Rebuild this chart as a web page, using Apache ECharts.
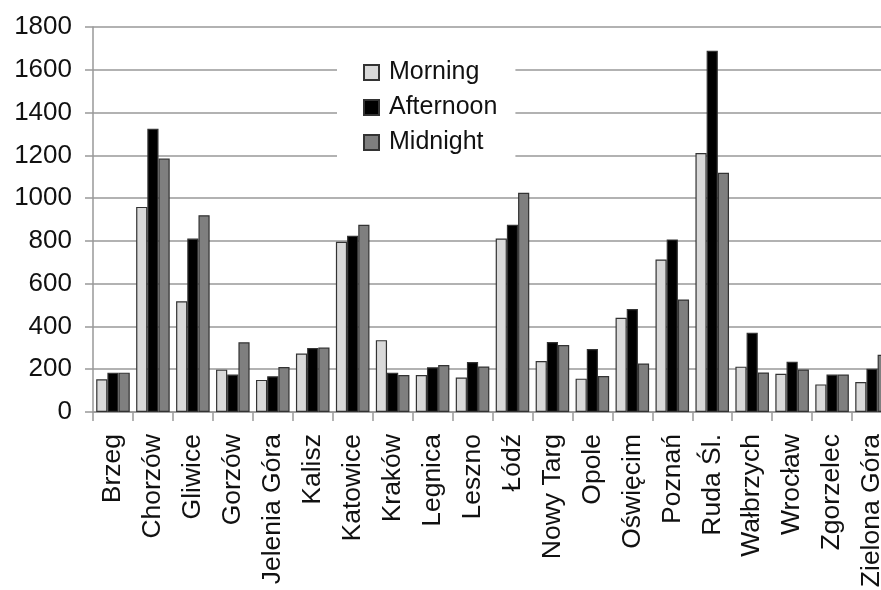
<!DOCTYPE html>
<html>
<head>
<meta charset="utf-8">
<script src="https://cdn.jsdelivr.net/npm/echarts@6/dist/echarts.min.js"></script>
<style>
html,body{margin:0;padding:0;background:#fff;overflow:hidden;}
#chart{width:881px;height:590px;}
</style>
</head>
<body>
<div id="chart"></div>
<script>
const categories = ['Brzeg','Chorzów','Gliwice','Gorzów','Jelenia Góra','Kalisz','Katowice','Kraków','Legnica','Leszno','Łódź','Nowy Targ','Opole','Oświęcim','Poznań','Ruda Śl.','Wałbrzych','Wrocław','Zgorzelec','Zielona Góra'];
const morning   = [153, 959, 518, 198, 150, 273, 796, 336, 173, 161, 811, 238, 156, 441, 713, 1211, 212, 179, 129, 140];
const afternoon = [184, 1324, 811, 175, 167, 299, 824, 184, 209, 234, 875, 327, 294, 481, 807, 1689, 371, 235, 175, 202];
const midnight  = [184, 1185, 920, 326, 210, 301, 875, 173, 220, 213, 1025, 313, 168, 227, 526, 1118, 185, 199, 175, 268];
const yTicks = {min: 0, max: 1800, interval: 200};

const font = 'Liberation Sans, Arial, Helvetica, sans-serif';
const chart = echarts.init(document.getElementById('chart'), null, {renderer: 'canvas'});
const border = {borderColor: '#333', borderWidth: 1.2};
chart.setOption({
  animation: false,
  backgroundColor: '#fff',
  grid: {left: 93, top: 27, bottom: 178, width: 799, containLabel: false, outerBoundsMode: 'none'},
  legend: {
    orient: 'vertical',
    left: 337, top: 48,
    backgroundColor: '#fff',
    padding: [12, 18, 12, 26],
    itemWidth: 15, itemHeight: 15, itemGap: 10,
    icon: 'rect',
    textStyle: {fontSize: 25, color: '#111', fontFamily: font, padding: [0, 0, 0, 5]},
    data: ['Morning', 'Afternoon', 'Midnight']
  },
  xAxis: {
    type: 'category',
    data: categories,
    boundaryGap: true,
    axisLine: {lineStyle: {color: '#999', width: 1.5}},
    axisTick: {show: true, length: 9, alignWithLabel: false, lineStyle: {color: '#999', width: 1.5}},
    axisLabel: {rotate: 90, fontSize: 26.5, color: '#111', fontFamily: font, margin: 22, interval: 0, hideOverlap: false},
    splitLine: {show: false}
  },
  yAxis: {
    type: 'value',
    min: yTicks.min, max: yTicks.max, interval: yTicks.interval,
    axisLine: {show: true, lineStyle: {color: '#999', width: 1.5}},
    axisTick: {show: true, length: 8, lineStyle: {color: '#999', width: 1.5}},
    axisLabel: {fontSize: 26, color: '#111', fontFamily: font, margin: 21, formatter: function (v) { return String(v); }},
    splitLine: {show: true, lineStyle: {color: '#999', width: 1.5}}
  },
  series: [
    {name: 'Morning', type: 'bar', data: morning, barGap: '0%', barCategoryGap: '16%', itemStyle: Object.assign({color: '#d9d9d9'}, border)},
    {name: 'Afternoon', type: 'bar', data: afternoon, barGap: '0%', barCategoryGap: '16%', itemStyle: Object.assign({color: '#000'}, border)},
    {name: 'Midnight', type: 'bar', data: midnight, barGap: '0%', barCategoryGap: '16%', itemStyle: Object.assign({color: '#7f7f7f'}, border)}
  ]
});
</script>
</body>
</html>
